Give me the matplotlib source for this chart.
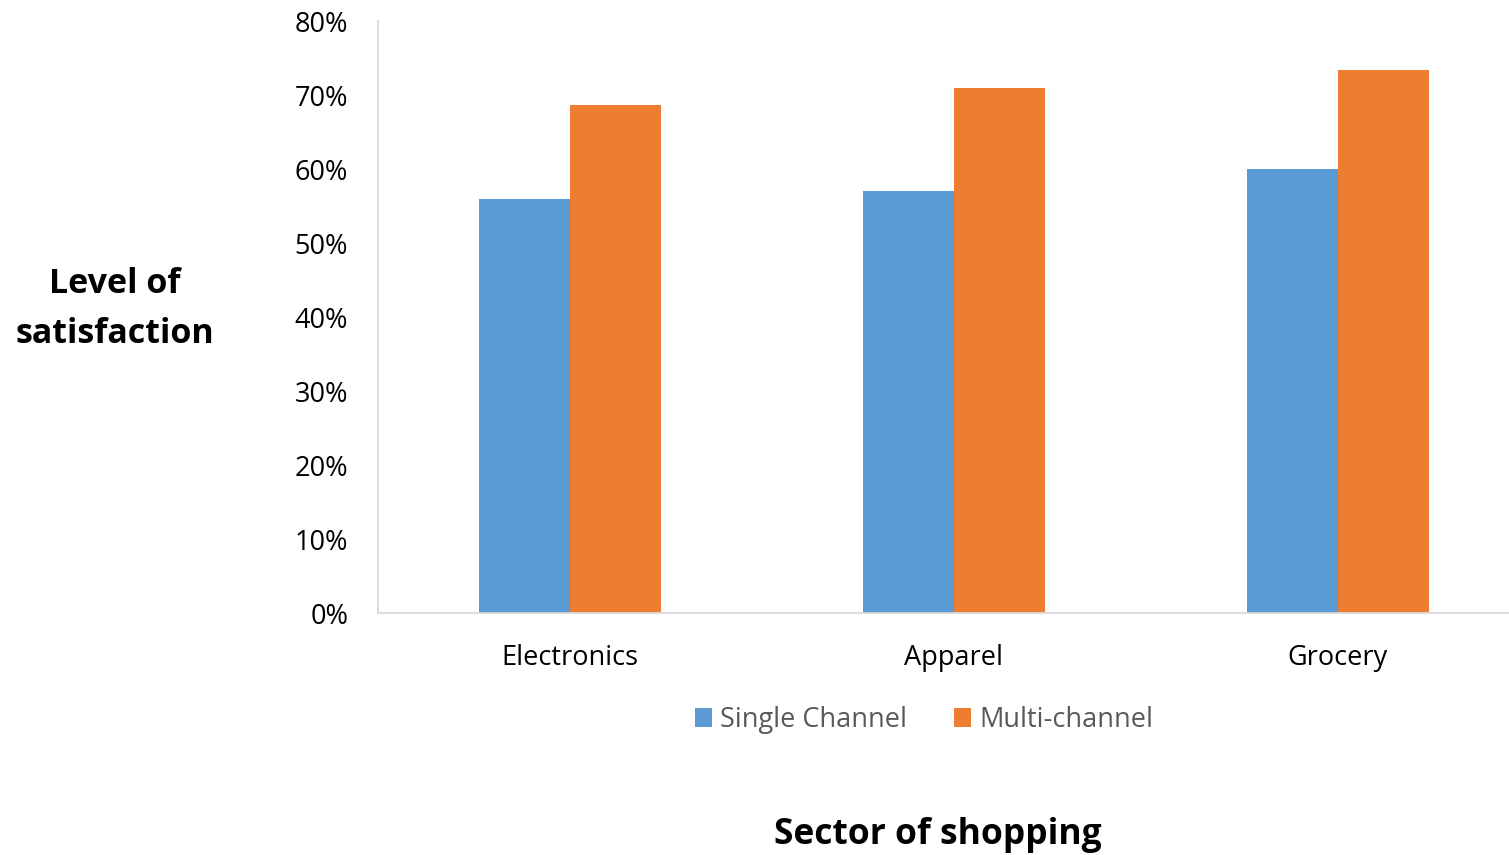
import matplotlib
matplotlib.use("Agg")
import matplotlib.pyplot as plt
import numpy as np
from matplotlib.ticker import PercentFormatter

plt.rcParams['font.family'] = ['Open Sans', 'DejaVu Sans']

# data
sectors = ['Electronics', 'Apparel', 'Grocery']
single_channel = [56, 57, 60]
multi_channel = [68.7, 71, 73.4]
series_names = ['Single Channel', 'Multi-channel']

COL_SINGLE = '#5B9BD5'
COL_MULTI = '#ED7D31'
SPINE = '#D9D9D9'

fig = plt.figure(figsize=(15.09, 8.55), dpi=100, facecolor='white')
ax = fig.add_axes([378/1509, 1-613/855, 1152/1509, 592/855])

x = np.arange(len(sectors))
w = 0.237
ax.bar(x - w/2, single_channel, w, color=COL_SINGLE, label=series_names[0])
ax.bar(x + w/2, multi_channel, w, color=COL_MULTI, label=series_names[1])

ax.set_xlim(-0.5, 2.5)
ax.set_ylim(0, 80)
ax.set_yticks(range(0, 81, 10))
ax.yaxis.set_major_formatter(PercentFormatter(decimals=0))
ax.set_xticks(x)
ax.set_xticklabels(sectors)
ax.tick_params(axis='both', length=0, labelsize=19.5, colors='black')
ax.tick_params(axis='y', pad=21.5)
ax.tick_params(axis='x', pad=22)

for s in ['top', 'right']:
    ax.spines[s].set_visible(False)
for s in ['left', 'bottom']:
    ax.spines[s].set_color(SPINE)
    ax.spines[s].set_linewidth(1.3)

fig.text(115/1509, 1-309/855, 'Level of\nsatisfaction', ha='center', va='center',
         fontsize=24.5, fontweight='bold', linespacing=1.6)
fig.text(938/1509, 1-835/855, 'Sector of shopping', ha='center', va='center',
         fontsize=25.5, fontweight='bold')

leg = fig.legend(loc='center', bbox_to_anchor=(924/1509, 1-720/855), ncol=2,
                 frameon=False, fontsize=19.5, handlelength=0.65, handleheight=0.65,
                 handletextpad=0.3, columnspacing=1.7)
for t in leg.get_texts():
    t.set_color('#595959')

fig.savefig('out.png', dpi=100, facecolor='white')
